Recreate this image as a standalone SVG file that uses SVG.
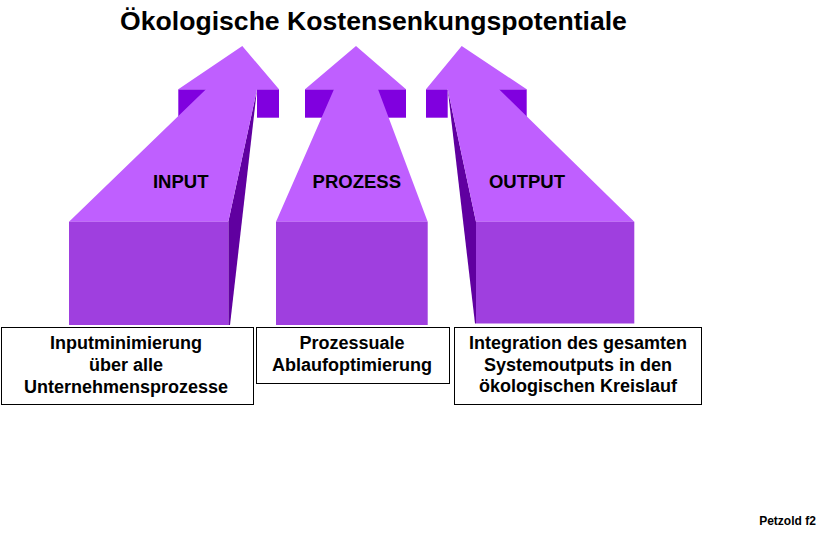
<svg xmlns="http://www.w3.org/2000/svg" width="827" height="534" viewBox="0 0 827 534">
<style>
.light{fill:#BF5FFF}
.front{fill:#9F3FDF}
.dark{fill:#8000DF}
.side{fill:#6000A0}
.lbl{font-family:"Liberation Sans",Arial,sans-serif;font-weight:bold;fill:#000;text-anchor:middle}
.box{fill:#fff;stroke:#000;stroke-width:1}
</style>
<rect width="827" height="534" fill="#fff"/>
<text class="lbl" x="373.5" y="30" font-size="26.6">Ökologische Kostensenkungspotentiale</text>

<g id="arrow-input">
<rect class="dark" x="178.3" y="89.3" width="27.7" height="28.4"/>
<rect class="dark" x="257" y="89.3" width="22" height="28.4"/>
<polygon class="side" points="257,89.3 230,325 228.3,325 228.3,221.7"/>
<polygon class="light" points="242.3,46 279,89.3 257,89.3 228.3,221.7 69,221.7 206,89.3 178.3,89.3"/>
<rect class="front" x="69" y="221.7" width="159.3" height="103.3"/>
<text class="lbl" x="180.7" y="188.3" font-size="18.5">INPUT</text>
</g>

<g id="arrow-prozess">
<rect class="dark" x="305" y="89.3" width="29" height="28.4"/>
<rect class="dark" x="378" y="89.3" width="28" height="28.4"/>
<polygon class="light" points="356,46 406,89.3 378,89.3 427.7,221.7 276,221.7 334,89.3 305,89.3"/>
<rect class="front" x="276" y="221.7" width="151.7" height="103.3"/>
<text class="lbl" x="356.8" y="188.3" font-size="18.5">PROZESS</text>
</g>

<g id="arrow-output">
<rect class="dark" x="426" y="89.3" width="21.7" height="28.4"/>
<rect class="dark" x="499" y="89.3" width="27.7" height="28.4"/>
<polygon class="side" points="447.7,89.3 475,323.5 476,323.5 476,221.7"/>
<polygon class="light" points="461.7,46 526.7,89.3 499,89.3 634.3,221.7 476,221.7 447.7,89.3 426,89.3"/>
<rect class="front" x="476" y="221.7" width="158.3" height="101.8"/>
<text class="lbl" x="527" y="188.3" font-size="18.5">OUTPUT</text>
</g>

<g id="box-input">
<rect class="box" x="1.5" y="327.5" width="252" height="77"/>
<text class="lbl" font-size="18" x="126" y="348.5">Inputminimierung</text>
<text class="lbl" font-size="18" x="126" y="370.5">über alle</text>
<text class="lbl" font-size="18" x="126" y="392.5">Unternehmensprozesse</text>
</g>

<g id="box-prozess">
<rect class="box" x="256.5" y="327.5" width="193" height="56"/>
<text class="lbl" font-size="18" x="352" y="349">Prozessuale</text>
<text class="lbl" font-size="18" x="352" y="370.5">Ablaufoptimierung</text>
</g>

<g id="box-output">
<rect class="box" x="454.5" y="327.5" width="247" height="77"/>
<text class="lbl" font-size="18" x="578" y="348.5">Integration des gesamten</text>
<text class="lbl" font-size="18" x="578" y="370.5">Systemoutputs in den</text>
<text class="lbl" font-size="18" x="578" y="392">ökologischen Kreislauf</text>
</g>

<text class="lbl" x="787.5" y="525" font-size="12">Petzold f2</text>
</svg>
